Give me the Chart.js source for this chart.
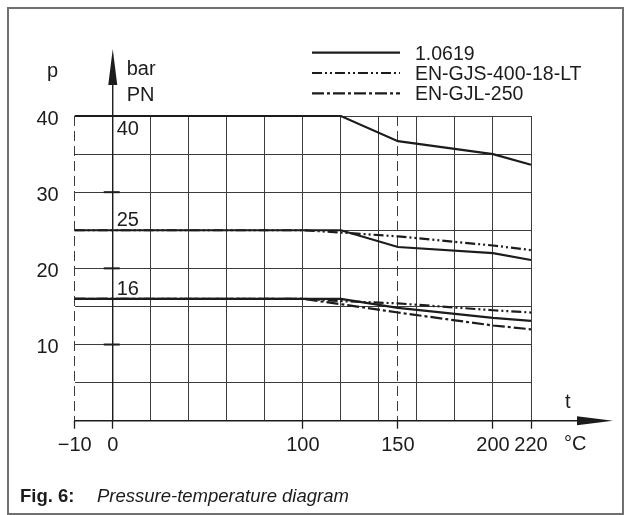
<!DOCTYPE html>
<html>
<head>
<meta charset="utf-8">
<script src="https://cdn.jsdelivr.net/npm/chart.js@4.4.1/dist/chart.umd.min.js"></script>
<style>
  html, body { margin: 0; padding: 0; background: #fff; }
  #wrap { width: 632px; height: 515px; }
</style>
</head>
<body>
<div id="wrap"><canvas id="ptChart" width="632" height="515"></canvas></div>
<script>
// materials shown in the legend, with their line dash
const materials = ['1.0619', 'EN-GJS-400-18-LT', 'EN-GJL-250']
const materialDash = [[], [10, 3, 2, 3, 2, 3], [12, 3, 3, 3]]

// nominal pressure levels (labels written above/below the lines)
const pnLevels = [40, 25, 16]

// 1.0619
const temps10619 = [-10, 120, 150, 200, 220]
const p10619PN40 = [40, 40, 36.7, 35.0, 33.6]
const p10619PN25 = [25, 25, 22.8, 22.0, 21.1]
const p10619PN16 = [16, 16, 14.8, 13.5, 13.1]

// EN-GJS-400-18-LT
const tempsGJS = [-10, 100, 120, 150, 200, 220]
const pGJSPN25 = [25, 25, 24.7, 24.2, 23.0, 22.4]
const pGJSPN16 = [16, 16, 15.7, 15.4, 14.5, 14.2]

// EN-GJL-250
const tempsGJL = [-10, 100, 120, 150, 200, 220]
const pGJLPN16 = [16, 16, 15.3, 14.2, 12.5, 12.0]

// axis
const gridTemps = [-10, 0, 20, 40, 60, 80, 100, 120, 140, 150, 160, 180, 200, 220]
const labelTemps = [-10, 0, 100, 150, 200, 220]
const dashedTemps = [-10, 150]
const pressureTicks = [10, 20, 30, 40]

// the drawing stretches -10..0 over a full 20 degree grid cell
const axisPos = (t) => (t < 0 ? t * 2 : t)
const tempAt = (pos) => (pos < 0 ? pos / 2 : pos)

const FONT = '"Liberation Sans", Arial, sans-serif'
const INK = '#1c1c1c'

function series(label, temps, values, material) {
  return {
    label: label,
    material: material,
    data: temps.map((t, i) => ({ x: axisPos(t), y: values[i] })),
    borderColor: INK,
    borderWidth: 2.2,
    borderDash: materialDash[material],
    pointRadius: 0,
    fill: false,
    tension: 0,
    clip: 6
  }
}

const datasets = [
  series('EN-GJL-250 PN16', tempsGJL, pGJLPN16, 2),
  series('EN-GJS-400-18-LT PN16', tempsGJS, pGJSPN16, 1),
  series('EN-GJS-400-18-LT PN25', tempsGJS, pGJSPN25, 1),
  series('1.0619 PN16', temps10619, p10619PN16, 0),
  series('1.0619 PN25', temps10619, p10619PN25, 0),
  series('1.0619 PN40', temps10619, p10619PN40, 0)
]

function text(ctx, str, x, y, size, opts = {}) {
  ctx.save()
  ctx.fillStyle = INK
  ctx.font = (opts.style || '') + ' ' + size + 'px ' + FONT
  ctx.textAlign = opts.align || 'left'
  ctx.textBaseline = opts.baseline || 'alphabetic'
  ctx.fillText(str, x, y)
  ctx.restore()
}

const decor = {
  id: 'decor',
  afterDraw(chart) {
    const ctx = chart.ctx
    const xs = chart.scales.x
    const ys = chart.scales.y
    const area = chart.chartArea
    const axisX = xs.getPixelForValue(axisPos(0))
    const axisY = ys.getPixelForValue(0)

    ctx.save()
    // outer frame
    ctx.strokeStyle = '#707070'
    ctx.lineWidth = 2
    ctx.strokeRect(8, 8, 615, 506)

    ctx.strokeStyle = INK
    ctx.fillStyle = INK
    // p axis with arrow
    ctx.lineWidth = 1.4
    ctx.beginPath()
    ctx.moveTo(axisX, axisY)
    ctx.lineTo(axisX, area.top - 40)
    ctx.stroke()
    ctx.beginPath()
    ctx.moveTo(axisX, area.top - 67)
    ctx.lineTo(axisX - 4.5, area.top - 31)
    ctx.lineTo(axisX + 4.5, area.top - 31)
    ctx.closePath()
    ctx.fill()

    // t axis with arrow
    ctx.beginPath()
    ctx.moveTo(area.left, axisY)
    ctx.lineTo(area.right + 55, axisY)
    ctx.stroke()
    ctx.beginPath()
    ctx.moveTo(area.right + 82, axisY)
    ctx.lineTo(area.right + 46, axisY - 4.5)
    ctx.lineTo(area.right + 46, axisY + 4.5)
    ctx.closePath()
    ctx.fill()

    // short marks on the p axis
    ctx.lineWidth = 2
    pressureTicks.slice(0, 3).forEach((p) => {
      const y = ys.getPixelForValue(p)
      ctx.beginPath()
      ctx.moveTo(axisX - 9, y)
      ctx.lineTo(axisX + 7, y)
      ctx.stroke()
    })
    ctx.restore()

    // axis captions
    text(ctx, 'p', 47, 77, 20)
    text(ctx, 'bar', axisX + 14, 75, 20)
    text(ctx, 'PN', axisX + 14, 101, 20)
    text(ctx, 't', area.right + 34, 408, 20)
    text(ctx, '\u00b0C', area.right + 33, 450, 20)

    // PN labels
    pnLevels.forEach((pn) => {
      const y = ys.getPixelForValue(pn)
      const below = pn === 40
      text(ctx, String(pn), axisX + 4, below ? y + 19 : y - 4, 20)
    })

    // legend
    materials.forEach((name, i) => {
      const y = 52.7 + i * 20.3
      ctx.save()
      ctx.strokeStyle = INK
      ctx.lineWidth = 2.2
      ctx.setLineDash(materialDash[i])
      ctx.beginPath()
      ctx.moveTo(312, y)
      ctx.lineTo(400, y)
      ctx.stroke()
      ctx.restore()
      text(ctx, name, 415, y + 7, 19.5)
    })

    // figure caption
    text(ctx, 'Fig. 6:', 20, 501.5, 18.5, { style: 'bold' })
    text(ctx, 'Pressure-temperature diagram', 97, 501.5, 18.5, { style: 'italic' })
  }
}

new Chart(document.getElementById('ptChart'), {
  type: 'line',
  data: { datasets: datasets },
  plugins: [decor],
  options: {
    responsive: false,
    animation: false,
    layout: { padding: { left: 0, top: 116, right: 101, bottom: 0 } },
    plugins: {
      legend: { display: false },
      tooltip: { enabled: false }
    },
    scales: {
      x: {
        type: 'linear',
        min: axisPos(-10),
        max: 220,
        afterBuildTicks: (scale) => {
          scale.ticks = gridTemps.map((t) => ({ value: axisPos(t) }))
        },
        afterFit: (scale) => { scale.height = 94.3 },
        grid: {
          color: '#3c3c3c',
          lineWidth: 1,
          tickLength: 8,
          tickWidth: 1.3,
          tickColor: (c) => labelTemps.includes(tempAt(c.tick.value)) ? INK : 'rgba(0,0,0,0)'
        },
        border: {
          display: false,
          dash: (c) => (c.tick && dashedTemps.includes(tempAt(c.tick.value))) ? [10, 5] : []
        },
        ticks: {
          autoSkip: false,
          maxRotation: 0,
          padding: 5,
          color: INK,
          font: { size: 20, family: FONT },
          callback: (value) => {
            const t = tempAt(value)
            if (!labelTemps.includes(t)) return ''
            return t < 0 ? '\u2212' + Math.abs(t) : String(t)
          }
        }
      },
      y: {
        min: 0,
        max: 40,
        afterFit: (scale) => { scale.width = 74.7 },
        grid: {
          color: '#3c3c3c',
          lineWidth: 1,
          drawTicks: false,
          tickLength: 0
        },
        border: { display: false },
        ticks: {
          stepSize: 5,
          padding: 16,
          labelOffset: 3,
          color: INK,
          font: { size: 20, family: FONT },
          callback: (value) => pressureTicks.includes(value) ? String(value) : ''
        }
      }
    }
  }
})
</script>
</body>
</html>
